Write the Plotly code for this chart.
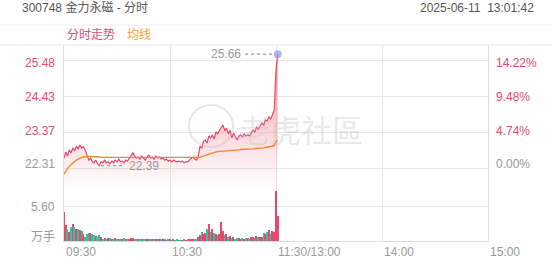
import plotly.graph_objects as go
import numpy as np

# ---------------- data ----------------
pre_close = 22.31
price = [
    22.61, 22.79, 22.67, 22.85, 22.76, 22.91, 22.82, 22.96, 22.88, 22.99,
    22.91, 22.94, 22.85, 22.70, 22.55, 22.61, 22.50, 22.47, 22.55, 22.44,
    22.39, 22.50, 22.47, 22.55, 22.47, 22.50, 22.44, 22.52, 22.47, 22.55,
    22.50, 22.58, 22.50, 22.52, 22.47, 22.55, 22.52, 22.61, 22.70, 22.76,
    22.67, 22.61, 22.64, 22.58, 22.67, 22.61, 22.55, 22.64, 22.70, 22.61,
    22.64, 22.58, 22.67, 22.61, 22.64, 22.58, 22.61, 22.55, 22.58, 22.52,
    22.55, 22.50, 22.55, 22.52, 22.50, 22.52, 22.50, 22.52, 22.47, 22.50,
    22.50, 22.55, 22.61, 22.64, 22.58, 22.55, 22.67, 22.96, 22.91, 23.11,
    23.14, 23.05, 23.26, 23.20, 23.29, 23.17, 23.38, 23.32, 23.43, 23.49,
    23.58, 23.41, 23.49, 23.32, 23.43, 23.20, 23.35, 23.23, 23.14, 23.26,
    23.29, 23.23, 23.32, 23.26, 23.29, 23.26, 23.35, 23.43, 23.38, 23.52,
    23.46, 23.55, 23.64, 23.58, 23.73, 23.70, 23.82, 23.76, 23.87, 24.02,
    25.20, 25.66,
]
avg_price = [
    22.14, 22.23, 22.30, 22.36, 22.42, 22.47, 22.51, 22.55, 22.58, 22.61,
    22.63, 22.64, 22.66, 22.66, 22.66, 22.66, 22.65, 22.65, 22.64, 22.64,
    22.64, 22.63, 22.63, 22.63, 22.63, 22.62, 22.62, 22.62, 22.62, 22.62,
    22.62, 22.62, 22.62, 22.62, 22.62, 22.62, 22.62, 22.62, 22.62, 22.62,
    22.62, 22.62, 22.62, 22.62, 22.62, 22.62, 22.62, 22.62, 22.62, 22.62,
    22.62, 22.62, 22.62, 22.62, 22.62, 22.62, 22.62, 22.62, 22.62, 22.62,
    22.62, 22.62, 22.62, 22.62, 22.62, 22.61, 22.61, 22.61, 22.61, 22.61,
    22.61, 22.61, 22.61, 22.61, 22.61, 22.61, 22.62, 22.63, 22.65, 22.67,
    22.69, 22.71, 22.73, 22.75, 22.76, 22.78, 22.79, 22.80, 22.80, 22.81,
    22.81, 22.82, 22.82, 22.83, 22.83, 22.83, 22.84, 22.84, 22.85, 22.85,
    22.86, 22.86, 22.86, 22.87, 22.87, 22.88, 22.88, 22.88, 22.89, 22.89,
    22.90, 22.90, 22.91, 22.91, 22.92, 22.93, 22.94, 22.95, 22.96, 22.97,
    23.10, 23.14,
]
volume = [
    4.7, 2.6, 1.9, 1.5, 2.2, 2.7, 2.2, 2.0, 1.9, 1.75,
    1.6, 1.2, 0.7, 1.2, 1.3, 1.3, 1.2, 1.0, 0.8, 0.7,
    1.0, 0.6, 0.4, 0.5, 0.4, 0.5, 0.45, 0.4, 0.35, 0.45,
    0.4, 0.35, 0.3, 0.4, 0.5, 0.35, 0.3, 0.4, 0.55, 0.5,
    0.35, 0.3, 0.35, 0.3, 0.35, 0.3, 0.25, 0.3, 0.35, 0.3,
    0.25, 0.3, 0.25, 0.2, 0.25, 0.2, 0.25, 0.2, 0.15, 0.2,
    0.2, 0.15, 0.2, 0.15, 0.2, 0.15, 0.1, 0.15, 0.2, 0.15,
    0.2, 0.25, 0.2, 0.3, 0.2, 0.25, 0.6, 1.0, 1.5, 1.2,
    1.3, 1.9, 2.7, 1.5, 2.0, 1.3, 1.2, 1.0, 1.2, 3.0,
    1.6, 1.0, 1.1, 0.7, 0.8, 0.5, 0.6, 0.4, 0.5, 0.45,
    0.4, 0.5, 0.35, 0.45, 0.5, 0.4, 0.6, 0.7, 0.5, 0.8,
    0.6, 0.7, 0.6, 1.3, 1.2, 1.5, 1.8, 1.2, 1.6, 1.5,
    8.0, 4.0,
]
price_ticks = [25.48, 24.43, 23.37, 22.31]
price_tick_labels = ["25.48", "24.43", "23.37", "22.31"]
pct_tick_labels = ["14.22%", "9.48%", "4.74%", "0.00%"]
vol_tick = 5.60
vol_tick_label = "5.60"
time_ticks = [0, 60, 120, 180, 240]
time_labels = ["09:30", "10:30", "11:30/13:00", "14:00", "15:00"]
stock_title = "300748 金力永磁 - 分时"
timestamp = "2025-06-11  13:01:42"

# ---------------- styling ----------------
RED = "#e8486c"
GREEN = "#2fc4a4"
GRAY_BAR = "#8d99ad"
ORANGE = "#f5862e"
GRID = "#e6e6e6"
LABEL_GRAY = "#999999"
FONT = "Liberation Sans, Noto Sans CJK SC, sans-serif"

minutes = list(range(len(price)))
prev = [pre_close] + price[:-1]
bar_colors = [RED if p > q else (GREEN if p < q else GRAY_BAR) for p, q in zip(price, prev)]

y_lo, y_hi = 21.673, 25.929
v_hi = 8.16
split = 0.2602

fig = go.Figure()
fig.add_trace(go.Scatter(
    x=minutes, y=price, mode="lines",
    line=dict(color=RED, width=1.2),
    fill="tozeroy",
    fillgradient=dict(type="vertical", start=y_lo, stop=max(price),
                      colorscale=[[0, "rgba(240,90,110,0)"], [0.3, "rgba(240,90,110,0.17)"],
                                  [1, "rgba(240,90,110,0.62)"]]),
    hoverinfo="skip", xaxis="x", yaxis="y"))
fig.add_trace(go.Scatter(
    x=minutes, y=avg_price, mode="lines",
    line=dict(color=ORANGE, width=1.4), hoverinfo="skip", xaxis="x", yaxis="y"))
fig.add_trace(go.Scatter(
    x=[minutes[-1]], y=[price[-1]], mode="markers",
    marker=dict(size=8, color="rgba(150,160,235,0.75)"), hoverinfo="skip", xaxis="x", yaxis="y"))
fig.add_trace(go.Bar(
    x=minutes, y=volume, marker=dict(color=bar_colors, line=dict(width=0)),
    width=0.72, hoverinfo="skip", xaxis="x2", yaxis="y2"))

axis_common = dict(showgrid=True, gridcolor=GRID, gridwidth=1, zeroline=False,
                   showticklabels=False, ticks="", fixedrange=True)
fig.update_layout(
    width=552, height=265, autosize=False,
    margin=dict(l=64, r=64, t=45, b=24, pad=0),
    paper_bgcolor="white", plot_bgcolor="white",
    showlegend=False, bargap=0,
    font=dict(family=FONT, size=12, color=LABEL_GRAY),
    xaxis=dict(axis_common, range=[0, 240], tickvals=time_ticks, domain=[0, 1], anchor="y"),
    xaxis2=dict(axis_common, range=[0, 240], tickvals=time_ticks, domain=[0, 1], anchor="y2",
                matches="x", showline=True, linecolor="#dddddd", linewidth=1),
    yaxis=dict(axis_common, range=[y_lo, y_hi], tickvals=price_ticks, domain=[split, 1],
               anchor="x", showline=True, mirror=True, linecolor="#dddddd", linewidth=1),
    yaxis2=dict(axis_common, range=[0, v_hi], tickvals=[vol_tick], domain=[0, split],
                anchor="x2", showline=True, mirror=True, linecolor="#dddddd", linewidth=1),
)

ann = []
# header
ann.append(dict(text=stock_title, x=-0.1038, y=1.189, xref="paper", yref="paper",
                xanchor="left", yanchor="middle", showarrow=False,
                font=dict(size=12, color="#555555")))
ann.append(dict(text=timestamp, x=1.1132, y=1.189, xref="paper", yref="paper",
                xanchor="right", yanchor="middle", showarrow=False,
                font=dict(size=12, color="#555555")))
ann.append(dict(text="分时走势", x=0.0024, y=1.051, xref="paper", yref="paper",
                xanchor="left", yanchor="middle", showarrow=False,
                font=dict(size=12, color=RED)))
ann.append(dict(text="均线", x=0.1439, y=1.051, xref="paper", yref="paper",
                xanchor="left", yanchor="middle", showarrow=False,
                font=dict(size=12, color="#f0a030")))
# left / right labels
shifts = [-3, -1, 1, 4]
for v, lab, pct, s in zip(price_ticks, price_tick_labels, pct_tick_labels, shifts):
    col = LABEL_GRAY if abs(v - pre_close) < 1e-6 else RED
    ann.append(dict(text=lab, x=0, y=v, xref="paper", yref="y", xanchor="right",
                    yanchor="middle", xshift=-7, yshift=s, showarrow=False,
                    font=dict(size=12, color=col)))
    ann.append(dict(text=pct, x=1, y=v, xref="paper", yref="y", xanchor="left",
                    yanchor="middle", xshift=6, yshift=s, showarrow=False,
                    font=dict(size=12, color=col)))
ann.append(dict(text=vol_tick_label, x=0, y=vol_tick, xref="paper", yref="y2", xanchor="right",
                yanchor="middle", xshift=-7, yshift=-1, showarrow=False,
                font=dict(size=12, color=LABEL_GRAY)))
ann.append(dict(text="万手", x=0, y=0, xref="paper", yref="y2", xanchor="right",
                yanchor="middle", xshift=-7, yshift=4, showarrow=False,
                font=dict(size=12, color=LABEL_GRAY)))
# time labels
for t, lab in zip(time_ticks, time_labels):
    ann.append(dict(text=lab, x=t, y=-0.056, xref="x", yref="paper", xanchor="left",
                    yanchor="middle", xshift=0, showarrow=False,
                    font=dict(size=12, color=LABEL_GRAY)))

# max / min markers
imax = int(np.argmax(price))
imin = int(np.argmin(price))
ann.append(dict(text=f"{price[imax]:.2f}", x=imax - 19.8, y=price[imax], xref="x", yref="y",
                xanchor="right", yanchor="middle", showarrow=False,
                font=dict(size=12, color=LABEL_GRAY)))
ann.append(dict(text=f"{price[imin]:.2f}", x=imin + 15.5, y=price[imin], xref="x", yref="y",
                xanchor="left", yanchor="middle", showarrow=False,
                font=dict(size=12, color=LABEL_GRAY)))
# watermark
ann.append(dict(text="老虎社區", x=(301 - 64) / 424, y=(241 - 131) / 196, xref="paper", yref="paper",
                xanchor="center", yanchor="middle", showarrow=False,
                font=dict(size=31, color="rgba(190,190,190,0.35)")))
fig.update_layout(annotations=ann)

shapes = [
    # header band
    dict(type="line", xref="paper", yref="paper", x0=-0.151, x1=1.151, y0=1.102, y1=1.102,
         line=dict(color="#eeeeee", width=1)),
    dict(type="line", xref="paper", yref="paper", x0=-0.151, x1=1.151, y0=1.0, y1=1.0,
         line=dict(color="#e6e6e6", width=1)),
    # max / min dashed leaders
    dict(type="line", xref="x", yref="y", x0=imax - 18.5, x1=imax - 1.5,
         y0=price[imax], y1=price[imax], line=dict(color="#8a96b4", width=1.2, dash="3px,3px")),
    dict(type="line", xref="x", yref="y", x0=imin + 1, x1=imin + 14.5,
         y0=price[imin], y1=price[imin], line=dict(color="#9aa0ac", width=1.2, dash="3px,3px")),
    # watermark circle
    dict(type="circle", xref="paper", yref="paper",
         x0=(189 - 64) / 424, x1=(233 - 64) / 424, y0=(241 - 147) / 196, y1=(241 - 105) / 196,
         line=dict(color="rgba(190,190,190,0.4)", width=2)),
]
fig.update_layout(shapes=shapes)

fig.write_html("out.html")
